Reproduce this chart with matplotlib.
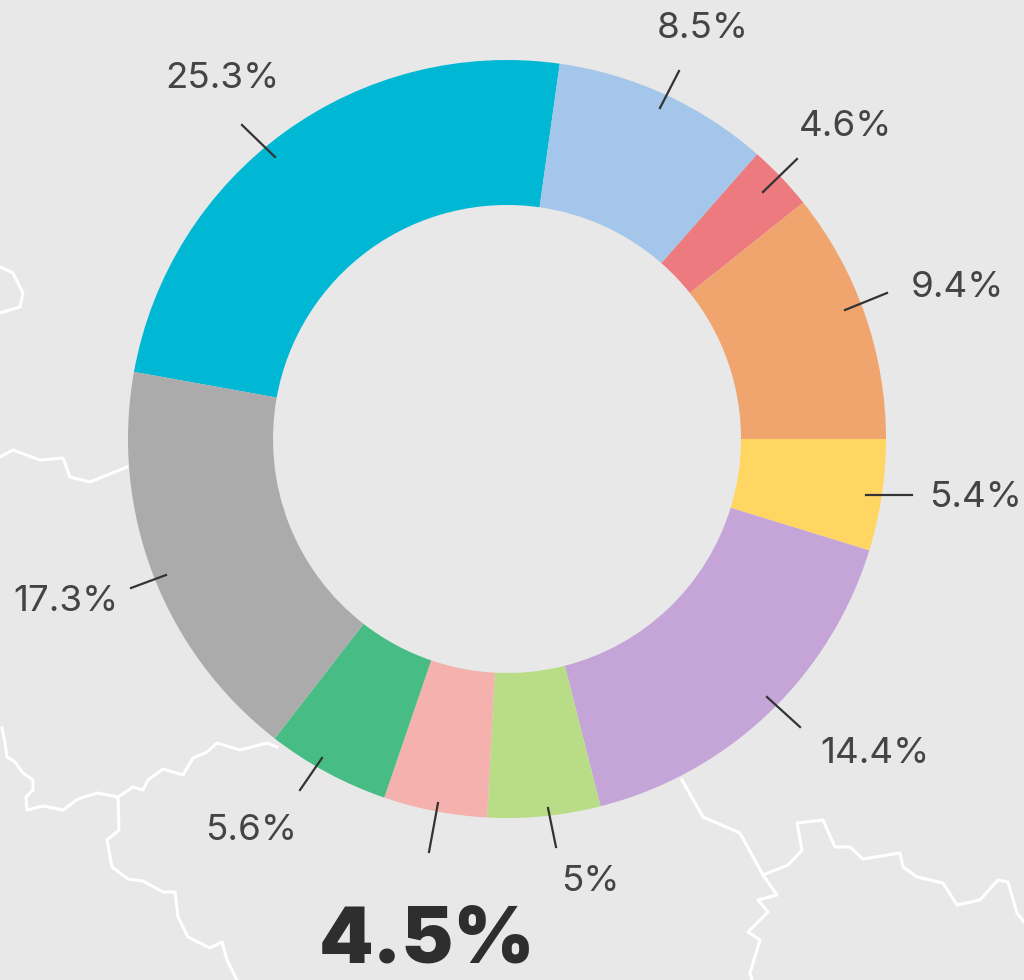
import matplotlib
matplotlib.use('Agg')
from matplotlib import pyplot as plt

# slice sizes (degrees), they don't follow the labels exactly
labels = ['25.3%', '8.5%', '4.6%', '9.4%', '5.4%', '14.4%', '5%', '4.5%', '5.6%', '17.3%']
slice_deg = [87.8, 33.3, 10.1, 38.6, 17.1, 58.6, 17.3, 15.9, 18.9, 62.4]
colors = ['#00b8d4', '#a3c6ea', '#ec7a7f', '#f0a56f', '#ffd662', '#c5a5d8',
          '#b9dc87', '#f5b1ad', '#47bd85', '#ababab']

text_x = [222, 703, 846, 957, 975, 875, 590, 427, 251, 66]
text_y = [78, 28, 126, 287, 497, 753, 881, 942, 830, 601]
tick_x0 = [242, 679, 797, 887, 912, 800, 548, 438, 322, 131]
tick_y0 = [125, 71, 159, 293, 495, 727, 808, 803, 758, 588]
tick_x1 = [275, 660, 763, 845, 866, 767, 556, 429, 300, 166]
tick_y1 = [157, 108, 192, 310, 495, 697, 847, 852, 790, 575]

# map outlines behind the ring
borders = [
    [(0, 267), (13, 273), (23, 293), (20, 307), (0, 313)],
    [(0, 457), (13, 450), (40, 460), (63, 458), (70, 477), (90, 482), (127, 467)],
    [(2, 728), (5, 743), (7, 757), (15, 762), (23, 773), (33, 780), (33, 790), (26, 797),
     (27, 810), (43, 806), (63, 810), (78, 799), (97, 793), (118, 797), (133, 787),
     (143, 790), (148, 780), (163, 769), (183, 775), (193, 758), (207, 752), (217, 743),
     (240, 750), (267, 743), (277, 747)],
    [(118, 797), (119, 830), (107, 840), (112, 867), (128, 879), (143, 881), (163, 892),
     (175, 892), (178, 917), (188, 937), (210, 948), (222, 942), (227, 960), (237, 980)],
    [(682, 780), (703, 817), (740, 833), (763, 875), (777, 895), (758, 900), (768, 912),
     (748, 932), (760, 940), (750, 973), (752, 980)],
    [(763, 875), (788, 865), (802, 850), (797, 823), (823, 820), (835, 847), (850, 847),
     (863, 859), (900, 853), (903, 867), (917, 877), (943, 883), (957, 905), (980, 900),
     (998, 880), (1008, 882), (1017, 913), (1024, 922)],
]

bg = '#e8e8e8'
plt.rcParams['font.family'] = ['Inter', 'DejaVu Sans']

fig = plt.figure(figsize=(10.24, 9.8), dpi=100, facecolor=bg)
ax = fig.add_axes([0, 0, 1, 1])
ax.set_facecolor(bg)

for b in borders:
    ax.plot([p[0] for p in b], [p[1] for p in b], color='white', lw=2.2, zorder=1,
            solid_joinstyle='round')

# y axis is flipped below so the pie runs clockwise on screen, from the grey/cyan edge
ax.pie(slice_deg, colors=colors, center=(507, 439), radius=379, startangle=190.2,
       counterclock=True, frame=True, wedgeprops=dict(width=145, linewidth=0))
ax.set_xlim(0, 1024)
ax.set_ylim(980, 0)
ax.axis('off')

for i in range(len(labels)):
    ax.plot([tick_x0[i], tick_x1[i]], [tick_y0[i], tick_y1[i]], color='#333333', lw=1.6, zorder=5)
    if labels[i] == '4.5%':
        ax.text(text_x[i], text_y[i], labels[i], fontsize=56, fontweight='black', color='#2e2e2e',
                ha='center', va='center', zorder=6)
    else:
        ax.text(text_x[i], text_y[i], labels[i], fontsize=26.5, color='#444444',
                ha='center', va='center', zorder=6)

fig.savefig('out.png', dpi=100, facecolor=bg)
